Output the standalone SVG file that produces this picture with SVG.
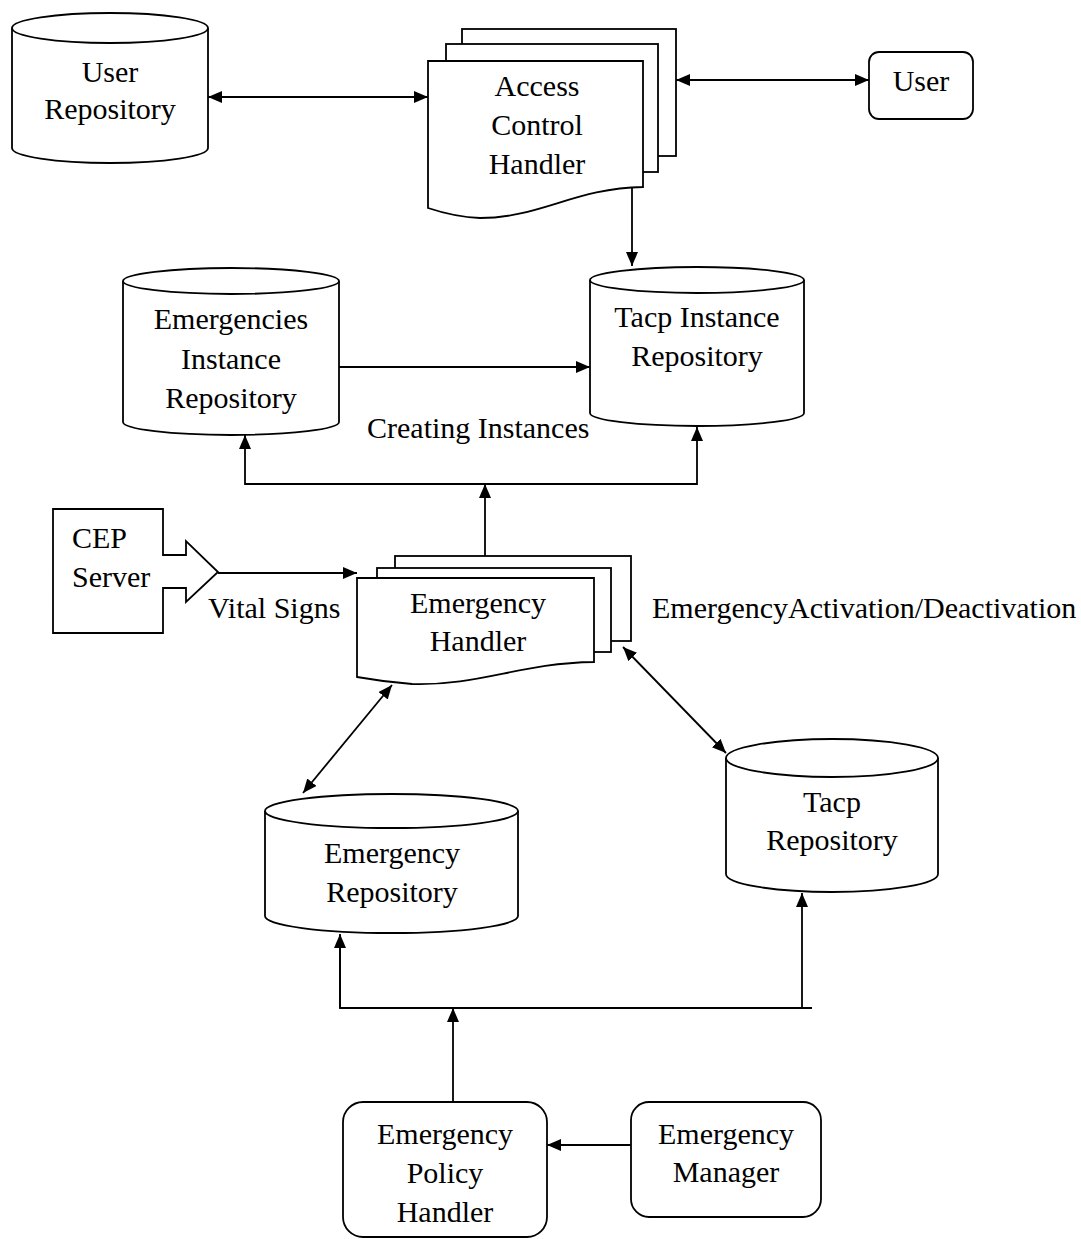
<svg xmlns="http://www.w3.org/2000/svg" width="1081" height="1239" viewBox="0 0 1081 1239">
<style>
.s{fill:#fff;stroke:#000;stroke-width:1.8}
.c{fill:none;stroke:#000;stroke-width:1.8}
text{font-family:"Liberation Serif","Times New Roman",serif;font-size:30px;fill:#000}
.m{text-anchor:middle}
</style>
<defs>
<marker id="ah" markerUnits="userSpaceOnUse" markerWidth="16" markerHeight="14" refX="14" refY="6" orient="auto-start-reverse">
<path d="M0,0 L14,6 L0,12 Z" fill="#000"/>
</marker>
</defs>
<rect width="1081" height="1239" fill="#fff"/>

<g id="user-repository">
<path class="s" d="M12,28 L12,148 A98,15 0 0 0 208,148 L208,28"/>
<ellipse class="s" cx="110" cy="28" rx="98" ry="15"/>
<text class="m" x="110" y="82">User</text>
<text class="m" x="110" y="119">Repository</text>
</g>

<g id="access-control-handler">
<rect class="s" x="462" y="29" width="214" height="127"/>
<rect class="s" x="446" y="44" width="212" height="128"/>
<path class="s" d="M428,61 L643,61 L643,187 C575,188 540,218 480,218 Q455,217 428,208 Z"/>
<text class="m" x="537" y="96">Access</text>
<text class="m" x="537" y="135">Control</text>
<text class="m" x="537" y="174">Handler</text>
</g>

<g id="user">
<rect class="s" x="869" y="52" width="104" height="67" rx="10"/>
<text class="m" x="921" y="91">User</text>
</g>

<g id="emergencies-instance-repository">
<path class="s" d="M123,281 L123,422 A108,13 0 0 0 339,422 L339,281"/>
<ellipse class="s" cx="231" cy="281" rx="108" ry="13"/>
<text class="m" x="231" y="329">Emergencies</text>
<text class="m" x="231" y="369">Instance</text>
<text class="m" x="231" y="408">Repository</text>
</g>

<g id="tacp-instance-repository">
<path class="s" d="M590,280 L590,413 A107,13 0 0 0 804,413 L804,280"/>
<ellipse class="s" cx="697" cy="280" rx="107" ry="13"/>
<text class="m" x="697" y="327">Tacp Instance</text>
<text class="m" x="697" y="366">Repository</text>
</g>

<g id="cep-server">
<path class="s" d="M53,509 L163,509 L163,555 L186,555 L186,541 L218,572 L186,602 L186,588 L163,588 L163,633 L53,633 Z"/>
<text x="72" y="548">CEP</text>
<text x="72" y="587">Server</text>
</g>

<g id="emergency-handler">
<rect class="s" x="395" y="556" width="236" height="85"/>
<rect class="s" x="377" y="568" width="234" height="84"/>
<path class="s" d="M357,578 L594,578 L594,662 C520,663 480,686 412,684 Q385,682 357,677 Z"/>
<text class="m" x="478" y="613">Emergency</text>
<text class="m" x="478" y="651">Handler</text>
</g>

<g id="emergency-repository">
<path class="s" d="M265,811 L265,916 A126.5,17 0 0 0 518,916 L518,811"/>
<ellipse class="s" cx="391.5" cy="811" rx="126.5" ry="17"/>
<text class="m" x="392" y="863">Emergency</text>
<text class="m" x="392" y="902">Repository</text>
</g>

<g id="tacp-repository">
<path class="s" d="M726,758 L726,874 A106,18 0 0 0 938,874 L938,758"/>
<ellipse class="s" cx="832" cy="758" rx="106" ry="19"/>
<text class="m" x="832" y="812">Tacp</text>
<text class="m" x="832" y="850">Repository</text>
</g>

<g id="emergency-policy-handler">
<rect class="s" x="343" y="1102" width="204" height="135" rx="20"/>
<text class="m" x="445" y="1144">Emergency</text>
<text class="m" x="445" y="1183">Policy</text>
<text class="m" x="445" y="1222">Handler</text>
</g>

<g id="emergency-manager">
<rect class="s" x="631" y="1102" width="190" height="115" rx="18"/>
<text class="m" x="726" y="1144">Emergency</text>
<text class="m" x="726" y="1182">Manager</text>
</g>

<g id="connectors">
<line class="c" x1="208" y1="97" x2="428" y2="97" marker-start="url(#ah)" marker-end="url(#ah)"/>
<line class="c" x1="676" y1="80" x2="869" y2="80" marker-start="url(#ah)" marker-end="url(#ah)"/>
<line class="c" x1="632" y1="187" x2="632" y2="266" marker-end="url(#ah)"/>
<line class="c" x1="339" y1="367" x2="590" y2="367" marker-end="url(#ah)"/>
<line class="c" x1="485" y1="556" x2="485" y2="484" marker-end="url(#ah)"/>
<polyline class="c" points="245,435 245,484 697,484 697,427" marker-start="url(#ah)" marker-end="url(#ah)"/>
<line class="c" x1="218" y1="573" x2="357" y2="573" marker-end="url(#ah)"/>
<line class="c" x1="392" y1="685" x2="303" y2="793" marker-start="url(#ah)" marker-end="url(#ah)"/>
<line class="c" x1="623" y1="647" x2="726" y2="753" marker-start="url(#ah)" marker-end="url(#ah)"/>
<polyline class="c" points="340,935 340,1008 812,1008"/>
<line class="c" x1="340" y1="1008" x2="340" y2="934" marker-end="url(#ah)"/>
<line class="c" x1="802" y1="1008" x2="802" y2="893" marker-end="url(#ah)"/>
<line class="c" x1="453" y1="1102" x2="453" y2="1008" stroke="#444" marker-end="url(#ah)"/>
<line class="c" x1="631" y1="1145" x2="547" y2="1145" marker-end="url(#ah)"/>
</g>

<g id="labels">
<text x="367" y="438">Creating Instances</text>
<text x="208" y="618">Vital Signs</text>
<text x="652" y="618">EmergencyActivation/Deactivation</text>
</g>
</svg>
